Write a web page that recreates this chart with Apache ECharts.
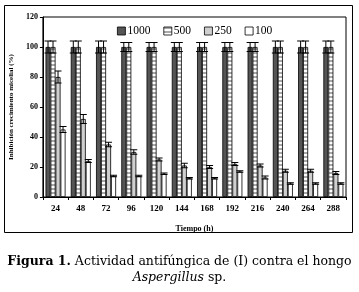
<!DOCTYPE html>
<html>
<head>
<meta charset="utf-8">
<script src="https://cdn.jsdelivr.net/npm/echarts@6/dist/echarts.min.js"></script>
<style>
  html, body { margin: 0; padding: 0; background: #fff; }
  #chart { width: 359px; height: 292px; }
</style>
</head>
<body>
<div id="chart"></div>
<script>
// datos
var horas = ['24', '48', '72', '96', '120', '144', '168', '192', '216', '240', '264', '288']
var dosis = ['1000', '500', '250', '100']
var v1000 = [100, 100, 100, 100, 100, 100, 100, 100, 100, 100, 100, 100]
var v500 = [100, 100, 100, 100, 100, 100, 100, 100, 100, 100, 100, 100]
var v250 = [80, 52, 35, 30, 25, 21, 20, 22, 21, 17.5, 17.5, 16]
var v100 = [45, 24, 14, 14, 15.5, 12.5, 12.5, 17, 13, 9, 9, 9]
// desviacion (barras de error)
var e1000 = [4, 4, 4, 3, 3, 3, 3, 3, 3, 4, 4, 4]
var e500 = [4, 4, 4, 3, 3, 3, 3, 3, 3, 4, 4, 4]
var e250 = [4, 3, 1.5, 1.5, 1, 1.5, 1, 1, 1, 1, 1, 1]
var e100 = [2, 1, 0.5, 0.5, 0.5, 0.5, 0.5, 0.5, 1, 0.5, 0.5, 0.5]
var yTicks = [0, 20, 40, 60, 80, 100, 120]

var chart = echarts.init(document.getElementById('chart'))

// rayado horizontal para la serie 500
var pat = document.createElement('canvas')
pat.width = 4
pat.height = 4
var ctx = pat.getContext('2d')
ctx.fillStyle = '#ffffff'
ctx.fillRect(0, 0, 4, 4)
ctx.fillStyle = '#a8a8a8'
ctx.fillRect(0, 0, 4, 2)

var barW = 5
var valores = [v1000, v500, v250, v100]
var errores = [e1000, e500, e250, e100]
var rellenos = ['#555555', { image: pat, repeat: 'repeat' }, '#cfcfcf', '#ffffff']
var serif = 'Liberation Serif'

function errorSeries(k) {
  var data = valores[k].map(function (v, i) { return [i, v, errores[k][i]] })
  return {
    type: 'custom',
    name: dosis[k] + '_err',
    z: 5,
    silent: true,
    data: data,
    renderItem: function (params, api) {
      var i = api.value(0)
      var v = api.value(1)
      var e = api.value(2)
      var off = (k - 1.5) * barW
      var hi = api.coord([i, v + e])
      var lo = api.coord([i, v - e])
      var x = hi[0] + off
      var cap = 3.5
      var st = { stroke: '#000', lineWidth: 1 }
      return {
        type: 'group',
        children: [
          { type: 'line', shape: { x1: x, y1: hi[1], x2: x, y2: lo[1] }, style: st },
          { type: 'line', shape: { x1: x - cap, y1: hi[1], x2: x + cap, y2: hi[1] }, style: st },
          { type: 'line', shape: { x1: x - cap, y1: lo[1], x2: x + cap, y2: lo[1] }, style: st }
        ]
      }
    }
  }
}

var series = []
for (var k = 0; k < 4; k++) {
  series.push({
    name: dosis[k],
    type: 'bar',
    barWidth: barW,
    barGap: '0%',
    data: valores[k],
    itemStyle: { color: rellenos[k], borderColor: '#000', borderWidth: 0.8 }
  })
}
for (var k2 = 0; k2 < 4; k2++) {
  series.push(errorSeries(k2))
}

var option = {
  animation: false,
  backgroundColor: '#fff',
  grid: {
    left: 40,
    right: 13,
    top: 17,
    bottom: 95,
    show: true,
    borderColor: '#000',
    borderWidth: 1,
    backgroundColor: 'transparent'
  },
  legend: {
    data: dosis.map(function (d, i) {
      return { name: d, itemStyle: { color: rellenos[i], borderColor: '#000', borderWidth: 0.8 } }
    }),
    left: 112,
    top: 20,
    itemWidth: 8,
    itemHeight: 8,
    itemGap: 13,
    icon: 'rect',
    textStyle: { fontFamily: serif, fontSize: 11.5, color: '#000', padding: [0, 0, 0, -3] }
  },
  xAxis: {
    type: 'category',
    data: horas,
    name: 'Tiempo (h)',
    nameLocation: 'middle',
    nameGap: 28,
    nameTextStyle: { fontFamily: serif, fontSize: 8, fontWeight: 'bold', color: '#000' },
    axisLine: { lineStyle: { color: '#000', width: 1 } },
    axisTick: { show: true, length: 3, lineStyle: { color: '#000' } },
    axisLabel: { fontFamily: serif, fontSize: 9, fontWeight: 'bold', color: '#000', margin: 7 }
  },
  yAxis: {
    type: 'value',
    min: yTicks[0],
    max: yTicks[yTicks.length - 1],
    interval: 20,
    name: 'Inhibición crecimiento micelial (%)',
    nameLocation: 'middle',
    nameGap: 24,
    nameTextStyle: { fontFamily: serif, fontSize: 7, fontWeight: 'bold', color: '#000' },
    axisLine: { show: true, lineStyle: { color: '#000', width: 1 } },
    axisTick: { show: true, length: 3, lineStyle: { color: '#000' } },
    axisLabel: { fontFamily: serif, fontSize: 8, fontWeight: 'bold', color: '#000', margin: 5 },
    splitLine: { show: false }
  },
  graphic: [
    {
      type: 'rect',
      shape: { x: 4.5, y: 5.5, width: 348, height: 227 },
      style: { fill: 'none', stroke: '#000', lineWidth: 1 },
      silent: true
    },
    {
      type: 'text',
      left: 'center',
      top: 255,
      style: {
        text: '{b|Figura 1.} Actividad antifúngica de (I) contra el hongo',
        fontFamily: 'DejaVu Serif',
        fontSize: 12.5,
        fill: '#000',
        rich: { b: { fontFamily: 'DejaVu Serif', fontSize: 12.5, fontWeight: 'bold', fill: '#000' } }
      }
    },
    {
      type: 'text',
      left: 'center',
      top: 271,
      style: {
        text: '{i|Aspergillus} sp.',
        fontFamily: 'DejaVu Serif',
        fontSize: 12.5,
        fill: '#000',
        rich: { i: { fontFamily: 'DejaVu Serif', fontSize: 12.5, fontStyle: 'italic', fill: '#000' } }
      }
    }
  ],
  series: series
}

chart.setOption(option)
</script>
</body>
</html>
